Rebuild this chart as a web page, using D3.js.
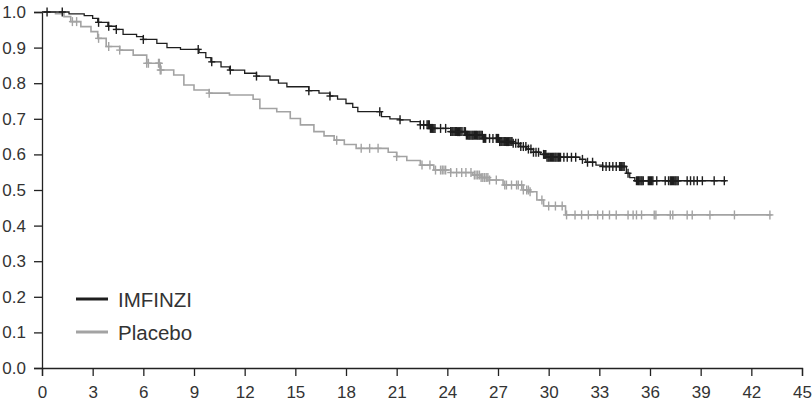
<!DOCTYPE html>
<html>
  <body style="margin:0">
    <style>
      body { background: #fff; }
      text { font-family: Arial, "Liberation Sans", sans-serif; }
    </style>
    <script src="https://d3js.org/d3.v7.min.js"></script>
    <script type="text/javascript">
      const width = 812;
      const height = 403;
      const margin = { top: 12, right: 10, bottom: 35, left: 42 };

      const xTicks = [0, 3, 6, 9, 12, 15, 18, 21, 24, 27, 30, 33, 36, 39, 42, 45];
      const yTicks = [0, 0.1, 0.2, 0.3, 0.4, 0.5, 0.6, 0.7, 0.8, 0.9, 1.0];
      const seriesNames = ['IMFINZI', 'Placebo'];
      const seriesColors = ['#1e1e1e', '#a3a3a3'];

      // step points: months, survival probability
      const imfinziTime = [0, 1.6, 2.5, 3.0, 3.3, 3.9, 4.4, 4.8, 5.6, 6.0, 6.8, 7.4, 8.2, 9.3, 9.7, 10.0, 10.6, 11.1, 12.0, 12.7, 13.5, 14.0, 14.5, 15.8, 16.4, 17.05, 17.5, 18.0, 18.4, 18.7, 20.1, 20.6, 21.2, 21.8, 22.4, 23.0, 24.2, 25.1, 26.1, 27.1, 27.9, 28.3, 28.7, 29.1, 29.5, 29.9, 31.85, 32.2, 32.8, 33.2, 34.6, 34.8, 35.1, 40.5];
      const imfinziSurv = [1.0, 0.995, 0.99, 0.982, 0.971, 0.96, 0.951, 0.937, 0.931, 0.923, 0.912, 0.90, 0.895, 0.886, 0.872, 0.86, 0.846, 0.837, 0.828, 0.82, 0.809, 0.80, 0.79, 0.779, 0.772, 0.764, 0.755, 0.743, 0.732, 0.72, 0.706, 0.70, 0.697, 0.692, 0.683, 0.673, 0.664, 0.654, 0.645, 0.636, 0.631, 0.622, 0.615, 0.606, 0.60, 0.592, 0.586, 0.578, 0.57, 0.566, 0.547, 0.535, 0.526, 0.526];
      const imfinziCensor = [0.3, 1.2, 3.35, 3.95, 4.4, 6.0, 9.25, 10.05, 11.15, 12.7, 15.8, 17.05, 20.0, 21.2, 22.4, 22.6,
        22.8, 22.87, 22.93, 23.0, 23.07, 23.13, 23.2, 23.27, 23.6, 23.9,
        24.2, 24.27, 24.33, 24.4, 24.47, 24.53, 24.6, 24.67, 24.73, 24.8, 24.87,
        25.0, 25.07, 25.13, 25.2, 25.27, 25.33, 25.4, 25.47, 25.53, 25.6, 25.67, 25.73, 25.8, 25.87, 25.93, 26.0, 26.07, 26.13, 26.2, 26.27,
        26.5, 26.7, 26.9, 26.97, 27.03, 27.1, 27.17, 27.23, 27.3, 27.37, 27.43, 27.5, 27.57, 27.63, 27.7, 27.77, 27.83, 27.9,
        28.05, 28.2, 28.35, 28.5, 28.65, 28.8, 28.95, 29.1, 29.25, 29.4,
        29.7, 29.77, 29.83, 29.9, 29.97, 30.03, 30.1, 30.17, 30.23, 30.3, 30.37, 30.43, 30.5, 30.57, 30.63, 30.7,
        30.9, 31.1, 31.35, 31.6, 32.0, 32.3, 32.6,
        33.2, 33.4, 33.6, 33.8, 34.0, 34.2, 34.27, 34.33, 34.4, 34.47, 34.7,
        35.2, 35.27, 35.33, 35.4, 35.47, 35.53, 35.6, 35.9, 35.97, 36.03, 36.1, 36.17, 36.4,
        36.9, 37.1, 37.2, 37.27, 37.33, 37.4, 37.47, 37.53, 37.6, 37.67, 38.2, 38.4, 38.6, 38.8, 39.1, 39.8, 40.4];

      const placeboTime = [0, 0.8, 1.3, 1.7, 2.3, 2.9, 3.3, 3.8, 4.6, 5.4, 6.2, 7.0, 7.8, 8.4, 9.0, 9.9, 11.1, 12.5, 12.9, 13.9, 14.7, 15.3, 16.1, 16.7, 17.3, 17.9, 18.6, 20.5, 21.0, 21.6, 22.4, 23.2, 24.2, 25.5, 26.0, 26.5, 27.3, 28.5, 28.9, 29.3, 29.7, 31.0, 43.2];
      const placeboSurv = [1.0, 0.995, 0.987, 0.973, 0.959, 0.945, 0.926, 0.903, 0.893, 0.879, 0.856, 0.837, 0.823, 0.795, 0.781, 0.772, 0.767, 0.755, 0.729, 0.72, 0.701, 0.683, 0.664, 0.652, 0.64, 0.628, 0.617, 0.606, 0.594, 0.583, 0.57, 0.556, 0.549, 0.542, 0.535, 0.528, 0.514, 0.50, 0.495, 0.472, 0.455, 0.43, 0.43];
      const placeboCensor = [1.8, 2.05, 3.35, 3.95, 4.6, 6.2, 6.3, 6.9, 6.95, 7.0, 7.05, 9.9, 17.45, 18.9, 19.4, 19.9, 21.0, 22.5, 22.97, 23.3,
        23.6, 23.7, 23.8, 23.9, 24.2, 24.55, 24.85, 25.1, 25.4, 25.6, 25.7, 25.8, 25.9, 26.0, 26.1, 26.2, 26.3, 26.4, 26.5, 26.9,
        27.4, 27.5, 27.8, 28.1, 28.2, 28.4, 28.5, 28.7, 28.8, 28.9, 29.6, 30.0, 30.4, 30.8,
        31.06, 31.56, 31.95, 32.35, 32.9, 33.2, 33.6, 34.0, 34.7, 35.0, 35.2, 35.5, 36.25, 36.35, 37.2, 37.35, 38.2, 38.5, 39.55, 41.0, 43.1];

      const svg = d3.select('body')
        .append('svg')
        .attr('width', width)
        .attr('height', height);

      const x = d3.scaleLinear().domain([0, 45]).range([margin.left, width - margin.right]);
      const y = d3.scaleLinear().domain([0, 1]).range([height - margin.bottom, margin.top]);

      const axisLeft = d3.axisLeft(y).tickValues(yTicks).tickFormat(d3.format('.1f')).tickSize(8).tickPadding(8);
      const gy = svg.append('g')
        .attr('transform', `translate(${margin.left},0)`)
        .call(axisLeft);
      const axisBottom = d3.axisBottom(x).tickValues(xTicks).tickSize(8).tickPadding(10);
      const gx = svg.append('g')
        .attr('transform', `translate(0,${height - margin.bottom})`)
        .call(axisBottom);
      [gx, gy].forEach((g) => {
        g.selectAll('.domain').attr('stroke', '#222').attr('stroke-width', 1.3);
        g.selectAll('.tick line').attr('stroke', '#222').attr('stroke-width', 1.3);
        g.selectAll('text').attr('font-size', 17).attr('fill', '#333')
          .attr('font-family', 'Arial, "Liberation Sans", sans-serif');
      });

      const series = [
        { name: seriesNames[0], time: imfinziTime, surv: imfinziSurv, censor: imfinziCensor, color: seriesColors[0], w: 1.3 },
        { name: seriesNames[1], time: placeboTime, surv: placeboSurv, censor: placeboCensor, color: seriesColors[1], w: 1.6 },
      ];

      const line = d3.line()
        .x((d) => x(d[0]))
        .y((d) => y(d[1]))
        .curve(d3.curveStepAfter);

      // draw placebo first so IMFINZI sits on top
      series.slice().reverse().forEach((s) => {
        const pts = s.time.map((t, i) => [t, s.surv[i]]);
        svg.append('path')
          .datum(pts)
          .attr('fill', 'none')
          .attr('stroke', s.color)
          .attr('stroke-width', s.w)
          .attr('d', line);
        const survAt = (t) => s.surv[Math.max(0, d3.bisectRight(s.time, t) - 1)];
        const marks = svg.append('g')
          .attr('stroke', s.color)
          .attr('stroke-width', 1.4);
        s.censor.forEach((t) => {
          const cx = x(t);
          const cy = y(survAt(t));
          marks.append('line').attr('x1', cx - 3.5).attr('x2', cx + 3.5).attr('y1', cy).attr('y2', cy);
          marks.append('line').attr('x1', cx).attr('x2', cx).attr('y1', cy - 4.5).attr('y2', cy + 4.5);
        });
      });

      // legend
      const legend = svg.append('g');
      series.forEach((s, i) => {
        const ly = 299 + i * 33;
        legend.append('line')
          .attr('x1', 76).attr('x2', 108)
          .attr('y1', ly).attr('y2', ly)
          .attr('stroke', s.color)
          .attr('stroke-width', 3);
        legend.append('text')
          .attr('x', 118).attr('y', ly + 7.5)
          .attr('font-size', 20.5)
          .attr('fill', '#333')
          .text(s.name);
      });
    </script>
  </body>
</html>
